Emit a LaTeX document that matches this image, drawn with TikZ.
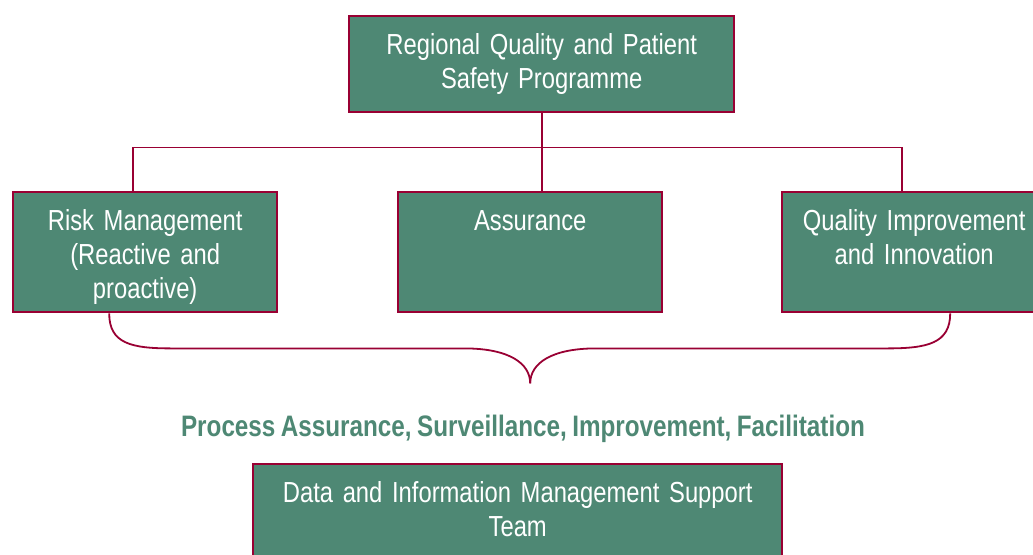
\documentclass[tikz,border=0pt]{standalone}
\usepackage{fontspec}
\setmainfont{Liberation Sans}[FakeStretch=0.82, WordSpace=0.8]
\usetikzlibrary{positioning}
\definecolor{boxgreen}{HTML}{4E8874}
\definecolor{wine}{HTML}{990033}
\tikzset{%
  % Specifications for style of nodes:
          unit/.style = {rectangle, draw=wine, line width=2.4pt, fill=boxgreen,
                         inner sep=0pt, align=center, text=white,
                         text height=38pt, font=\fontsize{29}{34}\selectfont},
      wideunit/.style = {unit, text width=385pt, text depth=58pt},
       subunit/.style = {unit, text width=264pt, text depth=82pt},
      teamunit/.style = {unit, text width=529pt, text depth=70pt},
          link/.style = {draw=wine, line width=1.8pt},
       caption/.style = {font=\fontsize{29.6}{34}\selectfont\bfseries, text=boxgreen},
}

\begin{document}
\begin{tikzpicture}[x=1pt, y=-1pt]
  \useasboundingbox (0,0) rectangle (1033,554);
  \clip (0,0) rectangle (1033,554);
  % Specification of nodes (position, etc.)
  \node (prog)  [wideunit, anchor=north west] at (348,15) {Regional Quality and Patient\\Safety Programme};
  \node (risk)  [subunit, anchor=north west] at (12,191) {Risk Management\\(Reactive and\\proactive)};
  \node (assur) [subunit, right=118.6pt of risk] {Assurance};
  \node (qual)  [subunit, right=117.6pt of assur] {Quality Improvement\\and Innovation};
  \node (work)  [caption, anchor=base] at (523,436) {Process Assurance, Surveillance, Improvement, Facilitation};
  \node (team)  [teamunit, anchor=north west] at (252,463) {Data and Information Management Support\\Team};
  % Lines from the programme down to the three units
  \coordinate (bus) at ([yshift=-34pt]prog.south);
  \draw[link] (prog.south) -- (prog.south |- assur.north);
  \draw[link] ([xshift=-12pt]risk.north) |- (bus) -| ([xshift=-12pt]qual.north);
  % brace under the units
  \coordinate (tip) at ([yshift=-70pt]assur.south);
  \draw[link] ([xshift=-36pt]risk.south) .. controls +(0,30) and +(-40,0) .. ++(62,35)
     -- ([xshift=-66pt,yshift=35pt]tip) .. controls +(45,0) and +(0,-20) .. (tip);
  \draw[link] ([xshift=36pt]qual.south) .. controls +(0,30) and +(40,0) .. ++(-63,35)
     -- ([xshift=66pt,yshift=35pt]tip) .. controls +(-45,0) and +(0,-20) .. (tip);
\end{tikzpicture}
\end{document}
